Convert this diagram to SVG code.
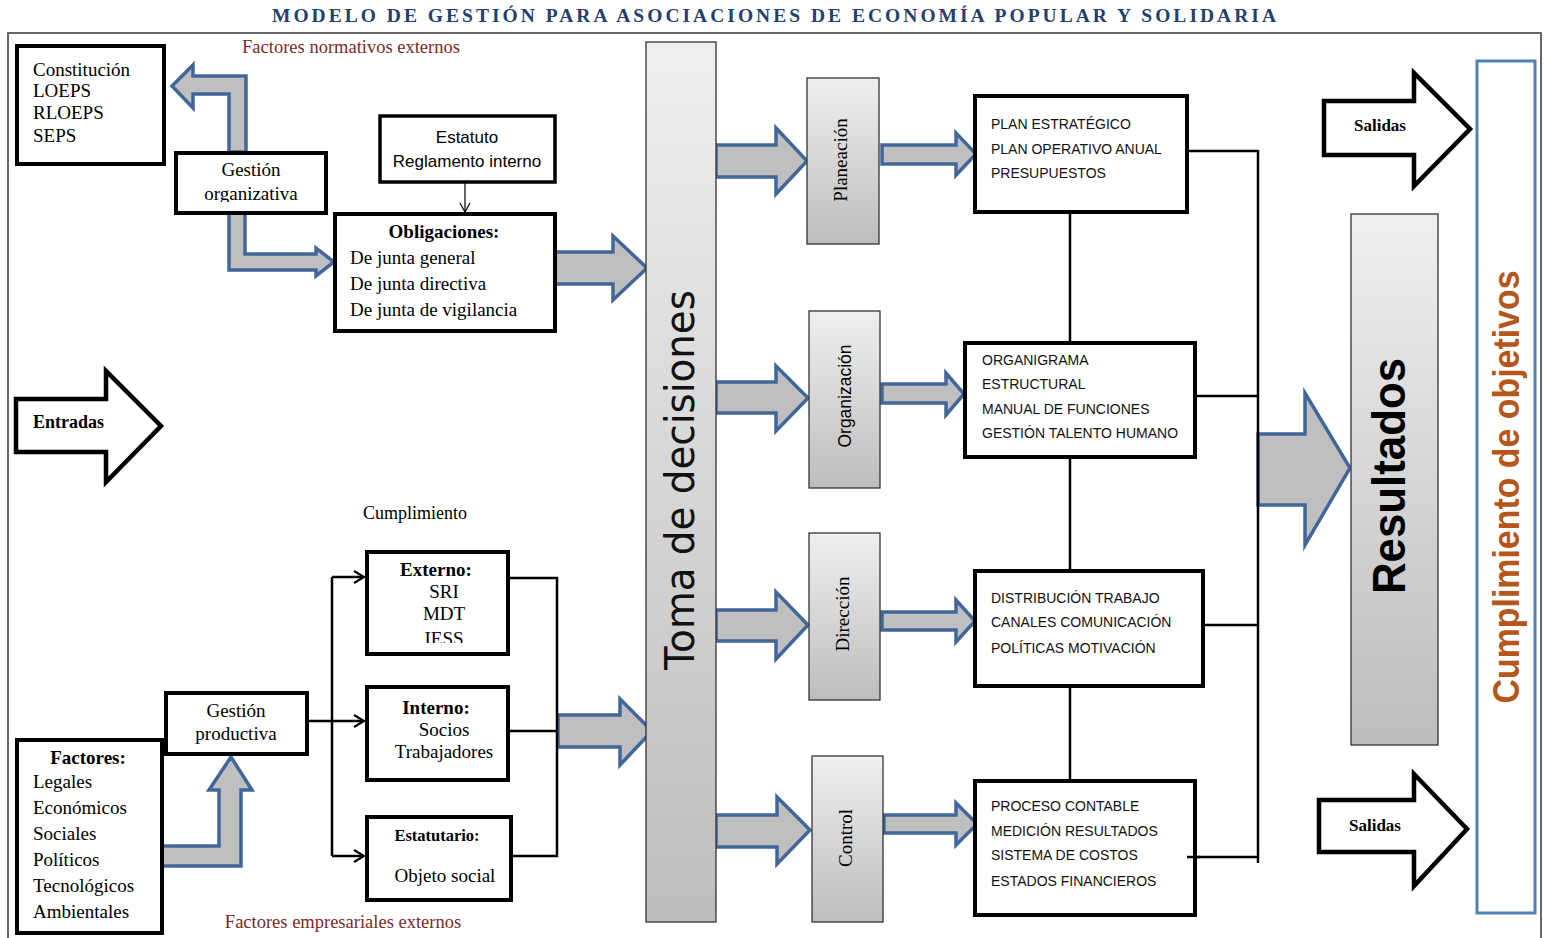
<svg xmlns="http://www.w3.org/2000/svg" width="1544" height="938" viewBox="0 0 1544 938">
  <style>
    .box { fill: #ffffff; stroke: #000000; stroke-width: 4; }
    .gbox { fill: url(#gray); stroke: #333333; stroke-width: 1.3; }
    .barrow { fill: #BFBFBF; stroke: #41679A; stroke-width: 3.5; stroke-linejoin: miter; }
    .oarrow { fill: #ffffff; stroke: #000000; stroke-width: 4.5; stroke-linejoin: miter; }
    .conn { fill: none; stroke: #000000; stroke-width: 2.5; }
    .serif { font-family: "Liberation Serif", "Times New Roman", serif; fill: #000; }
    .sans { font-family: "Liberation Sans", Arial, sans-serif; fill: #000; }
    .s19 { font-size: 19px; }
    .s18 { font-size: 18px; }
    .list { font-family: "Liberation Sans", Arial, sans-serif; font-size: 14px; fill: #111; }
    .red { font-family: "Liberation Serif", "Times New Roman", serif; font-size: 18.5px; fill: #7A2A2A; }
    .b { font-weight: bold; }
    .mid { text-anchor: middle; }
  </style>
  <defs>
    <linearGradient id="gray" x1="0" y1="0" x2="0" y2="1">
      <stop offset="0" stop-color="#EFEFEF"/>
      <stop offset="1" stop-color="#BDBDBD"/>
    </linearGradient>
    <marker id="vhead" viewBox="0 0 14 14" refX="12" refY="7" markerWidth="14" markerHeight="14" markerUnits="userSpaceOnUse" orient="auto">
      <path d="M2,1 L12,7 L2,13" fill="none" stroke="#000" stroke-width="2.2"/>
    </marker>
    <marker id="vsmall" viewBox="0 0 12 12" refX="10" refY="6" markerWidth="12" markerHeight="12" markerUnits="userSpaceOnUse" orient="auto">
      <path d="M1,1 L10,6 L1,11" fill="none" stroke="#000" stroke-width="1.2"/>
    </marker>
    <clipPath id="clipExterno">
      <rect x="369" y="554" width="137" height="89"/>
    </clipPath>
    <clipPath id="clipGestOrg">
      <rect x="178" y="155" width="146" height="47"/>
    </clipPath>
  </defs>

  <!-- background and frame -->
  <rect x="0" y="0" width="1544" height="938" fill="#ffffff"/>
  <rect x="8" y="33" width="1533" height="915" fill="none" stroke="#444" stroke-width="1.6"/>

  <!-- title -->
  <text x="774" y="22" class="serif b mid" font-size="19.5" style="fill:#24406E" textLength="1004" lengthAdjust="spacing">MODELO DE GESTIÓN PARA ASOCIACIONES DE ECONOMÍA POPULAR Y SOLIDARIA</text>

  <!-- side labels -->
  <text x="351" y="53" class="red mid">Factores normativos externos</text>
  <text x="343" y="928" class="red mid">Factores empresariales externos</text>
  <text x="415" y="519" class="serif s18 mid">Cumplimiento</text>

  <!-- connectors -->
  <g id="connectors">
    <!-- wide block arrows -->
    <path class="barrow" d="M229,152 V94 H193 V108 L172,86 L193,65 V76 H246 V152 Z"/>
    <path class="barrow" d="M229,213 V270 H316 V276 L334,262 L316,248 V254 H245 V213 Z"/>
    <path class="barrow" d="M555,252 H613 V236 L647,268 L613,300 V284 H555 Z"/>
    <path class="barrow" d="M162,846 H219 V790 H209 L231,757 L252,790 H241 V866 H162 Z"/>
    <path class="barrow" d="M558,715 H620 V699 L652,731 L620,765 V747 H558 Z"/>
    <path class="barrow" d="M716,145 H776 V128 L807,161 L776,194 V177 H716 Z"/>
    <path class="barrow" d="M882,145 H956 V133 L976,154 L956,175 V164 H882 Z"/>
    <path class="barrow" d="M716,382 H776 V366 L808,398 L776,431 V413 H716 Z"/>
    <path class="barrow" d="M882,384 H946 V373 L964,394 L946,415 V403 H882 Z"/>
    <path class="barrow" d="M716,610 H776 V592 L808,625 L776,659 V641 H716 Z"/>
    <path class="barrow" d="M882,612 H956 V600 L975,621 L956,642 V630 H882 Z"/>
    <path class="barrow" d="M716,815 H777 V797 L810,830 L777,864 V847 H716 Z"/>
    <path class="barrow" d="M884,815 H956 V803 L977,824 L956,845 V833 H884 Z"/>
    <path class="barrow" d="M1258,434 H1305 V393 L1350,468 L1305,545 V505 H1258 Z"/>

    <!-- thin line connectors -->
    <line x1="465" y1="183" x2="465" y2="212" stroke="#000" stroke-width="1.2" marker-end="url(#vsmall)"/>
    <path class="conn" d="M307,721 H364" marker-end="url(#vhead)"/>
    <path class="conn" d="M332,577 V856"/>
    <path class="conn" d="M332,577 H364" marker-end="url(#vhead)"/>
    <path class="conn" d="M332,856 H364" marker-end="url(#vhead)"/>
    <path class="conn" d="M508,578 H557 V856 H511"/>
    <path class="conn" d="M508,731 H558"/>

    <path class="conn" d="M1070,212 V342"/>
    <path class="conn" d="M1070,457 V570"/>
    <path class="conn" d="M1070,686 V792"/>
    <path class="conn" d="M1187,151 H1258"/>
    <path class="conn" d="M1195,396 H1258"/>
    <path class="conn" d="M1203,625 H1258"/>
    <path class="conn" d="M1187,857 H1258"/>
    <path class="conn" d="M1258,150 V863"/>
  </g>

  <!-- left: regulatory inputs -->
  <g id="normativa">
    <rect class="box" x="17" y="46" width="147" height="118"/>
    <text class="serif s19" x="33" y="76">Constitución</text>
    <text class="serif s19" x="33" y="97">LOEPS</text>
    <text class="serif s19" x="33" y="119">RLOEPS</text>
    <text class="serif s19" x="33" y="142">SEPS</text>
  </g>

  <g id="gestion-organizativa">
    <rect class="box" x="176" y="153" width="150" height="60"/>
    <g clip-path="url(#clipGestOrg)">
      <text class="serif s19 mid" x="251" y="176">Gestión</text>
      <text class="serif s19 mid" x="251" y="200">organizativa</text>
    </g>
  </g>

  <g id="estatuto">
    <rect class="box" x="380" y="116" width="175" height="66" style="stroke-width:3.5"/>
    <text class="sans mid" font-size="17" x="467" y="143">Estatuto</text>
    <text class="sans mid" font-size="17" x="467" y="167">Reglamento interno</text>
  </g>

  <g id="obligaciones">
    <rect class="box" x="335" y="214" width="220" height="117"/>
    <text class="serif s19 b mid" x="444" y="238">Obligaciones:</text>
    <text class="serif s19" x="350" y="264">De junta general</text>
    <text class="serif s19" x="350" y="290">De junta directiva</text>
    <text class="serif s19" x="350" y="316">De junta de vigilancia</text>
  </g>

  <g id="entradas">
    <path class="oarrow" d="M16,399 H106 V371 L161,426 L106,482 V452 H16 Z"/>
    <text class="serif s18 b" x="33" y="428">Entradas</text>
  </g>

  <!-- left: productive management -->
  <g id="factores">
    <rect class="box" x="17" y="740" width="145" height="193"/>
    <text class="serif s19 b mid" x="88" y="764">Factores:</text>
    <text class="serif s19" x="33" y="788">Legales</text>
    <text class="serif s19" x="33" y="814">Económicos</text>
    <text class="serif s19" x="33" y="840">Sociales</text>
    <text class="serif s19" x="33" y="866">Políticos</text>
    <text class="serif s19" x="33" y="892">Tecnológicos</text>
    <text class="serif s19" x="33" y="918">Ambientales</text>
  </g>

  <g id="gestion-productiva">
    <rect class="box" x="166" y="693" width="141" height="61"/>
    <text class="serif s19 mid" x="236" y="717">Gestión</text>
    <text class="serif s19 mid" x="236" y="740">productiva</text>
  </g>

  <g id="externo">
    <rect class="box" x="367" y="552" width="141" height="102"/>
    <g clip-path="url(#clipExterno)">
      <text class="serif s19 b mid" x="436" y="576">Externo:</text>
      <text class="serif s19 mid" x="444" y="598">SRI</text>
      <text class="serif s19 mid" x="444" y="620">MDT</text>
      <text class="serif s19 mid" x="444" y="645">IESS</text>
    </g>
  </g>

  <g id="interno">
    <rect class="box" x="367" y="687" width="141" height="93"/>
    <text class="serif s19 b mid" x="436" y="714">Interno:</text>
    <text class="serif s19 mid" x="444" y="736">Socios</text>
    <text class="serif s19 mid" x="444" y="758">Trabajadores</text>
  </g>

  <g id="estatutario">
    <rect class="box" x="367" y="817" width="144" height="83"/>
    <text class="serif b mid" font-size="16.5" x="437" y="841">Estatutario:</text>
    <text class="serif s19 mid" x="445" y="882">Objeto social</text>
  </g>

  <!-- central decision column -->
  <g id="toma-decisiones">
    <rect class="gbox" x="646" y="42" width="70" height="880"/>
    <text transform="translate(694,480) rotate(-90)" class="mid" font-family="'DejaVu Sans', Verdana, sans-serif" font-size="40" fill="#111" textLength="380" lengthAdjust="spacingAndGlyphs">Toma de decisiones</text>
  </g>

  <!-- management functions -->
  <g id="planeacion">
    <rect class="gbox" x="807" y="78" width="72" height="166"/>
    <text transform="translate(847,160) rotate(-90)" class="serif mid" font-size="19">Planeación</text>
  </g>
  <g id="organizacion">
    <rect class="gbox" x="809" y="311" width="71" height="177"/>
    <text transform="translate(851,396) rotate(-90)" class="sans mid" font-size="17.5">Organización</text>
  </g>
  <g id="direccion">
    <rect class="gbox" x="809" y="533" width="71" height="167"/>
    <text transform="translate(849,614) rotate(-90)" class="serif mid" font-size="19">Dirección</text>
  </g>
  <g id="control">
    <rect class="gbox" x="812" y="756" width="71" height="166"/>
    <text transform="translate(852,838) rotate(-90)" class="serif mid" font-size="19">Control</text>
  </g>

  <!-- function outputs -->
  <g id="plan">
    <rect class="box" x="975" y="96" width="212" height="116"/>
    <text class="list" x="991" y="129">PLAN ESTRATÉGICO</text>
    <text class="list" x="991" y="154">PLAN OPERATIVO ANUAL</text>
    <text class="list" x="991" y="178">PRESUPUESTOS</text>
  </g>
  <g id="organigrama">
    <rect class="box" x="965" y="343" width="230" height="114"/>
    <text class="list" x="982" y="365">ORGANIGRAMA</text>
    <text class="list" x="982" y="389">ESTRUCTURAL</text>
    <text class="list" x="982" y="414">MANUAL DE FUNCIONES</text>
    <text class="list" x="982" y="438">GESTIÓN TALENTO HUMANO</text>
  </g>
  <g id="distribucion">
    <rect class="box" x="975" y="571" width="228" height="115"/>
    <text class="list" x="991" y="603">DISTRIBUCIÓN TRABAJO</text>
    <text class="list" x="991" y="627">CANALES COMUNICACIÓN</text>
    <text class="list" x="991" y="653">POLÍTICAS MOTIVACIÓN</text>
  </g>
  <g id="proceso">
    <rect class="box" x="975" y="781" width="220" height="134"/>
    <text class="list" x="991" y="811">PROCESO CONTABLE</text>
    <text class="list" x="991" y="836">MEDICIÓN RESULTADOS</text>
    <text class="list" x="991" y="860">SISTEMA DE COSTOS</text>
    <text class="list" x="991" y="886">ESTADOS FINANCIEROS</text>
  </g>
  <path class="conn" d="M1187,857 H1200"/>

  <!-- results and outputs -->
  <g id="resultados">
    <rect class="gbox" x="1351" y="214" width="87" height="531"/>
    <text transform="translate(1405,476) rotate(-90)" class="sans b mid" font-size="46" textLength="236" lengthAdjust="spacingAndGlyphs">Resultados</text>
  </g>

  <g id="salidas-1">
    <path class="oarrow" d="M1324,101 H1414 V73 L1470,129 L1414,186 V155 H1324 Z"/>
    <text class="serif b mid" font-size="17" x="1380" y="131">Salidas</text>
  </g>
  <g id="salidas-2">
    <path class="oarrow" d="M1319,800 H1414 V774 L1467,829 L1414,886 V852 H1319 Z"/>
    <text class="serif b mid" font-size="17" x="1375" y="831">Salidas</text>
  </g>

  <g id="cumplimiento-objetivos">
    <rect x="1477" y="61" width="58" height="852" fill="#ffffff" stroke="#4F81BD" stroke-width="3"/>
    <text transform="translate(1519,487) rotate(-90)" class="sans mid" font-size="36" font-weight="bold" style="fill:#B5561A" textLength="433" lengthAdjust="spacingAndGlyphs">Cumplimiento de objetivos</text>
  </g>
</svg>
